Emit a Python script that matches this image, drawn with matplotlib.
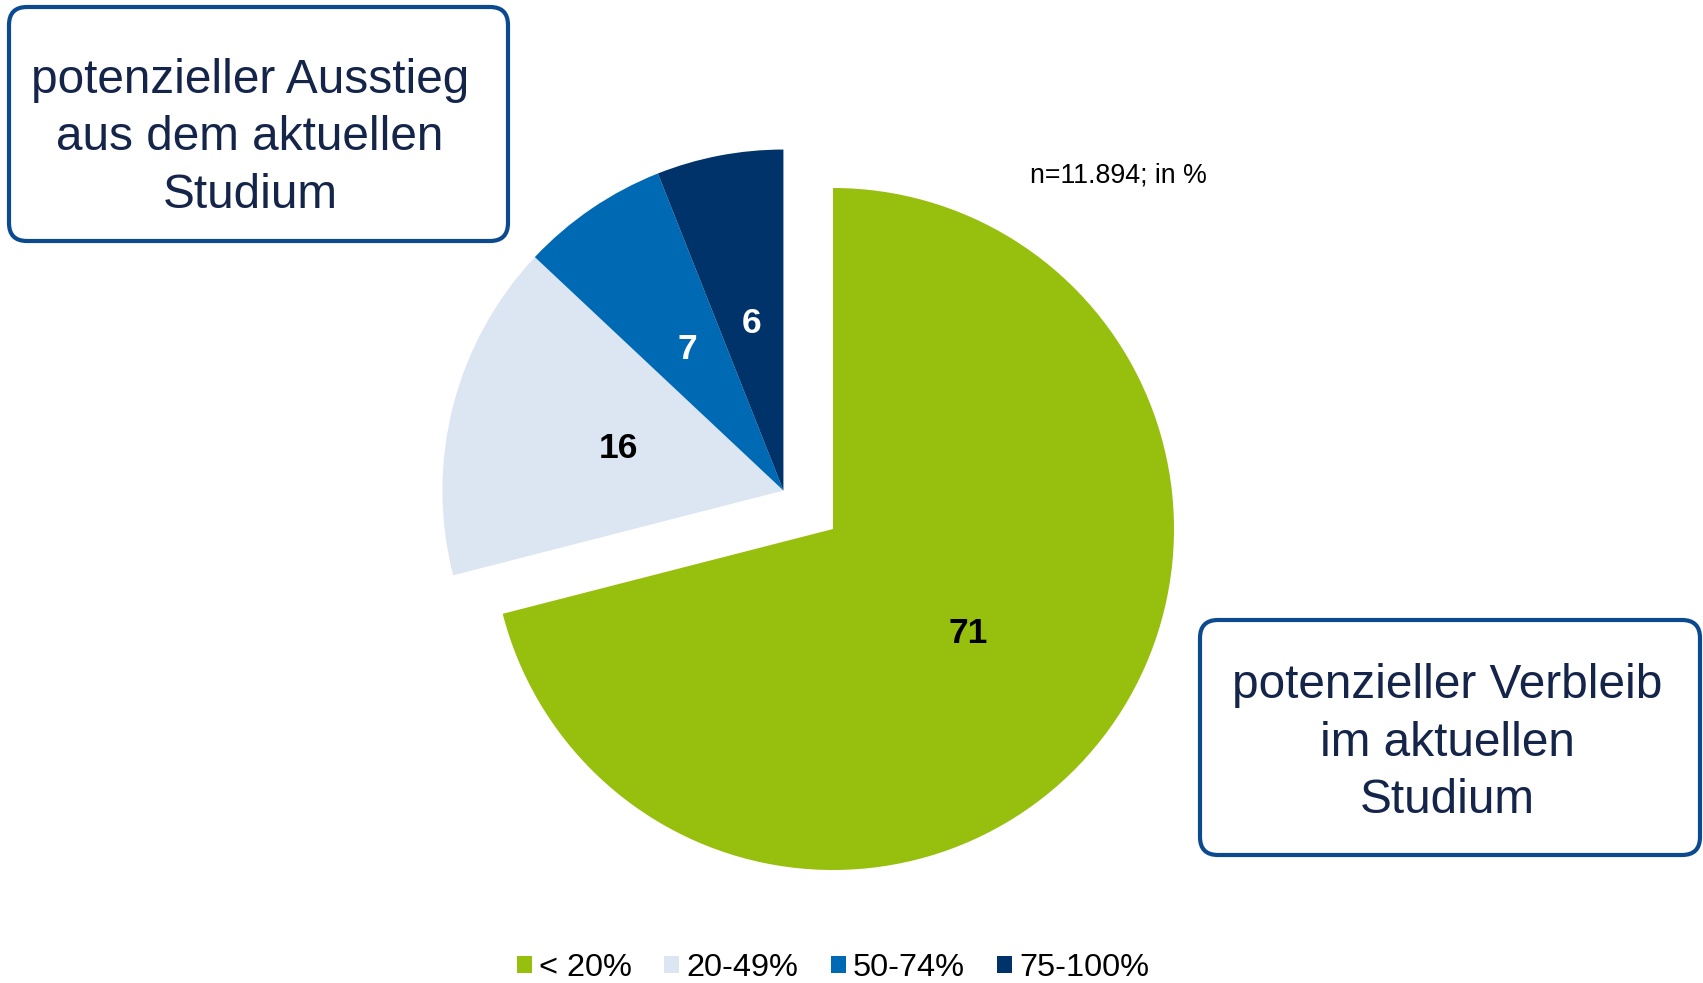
import numpy as np
import matplotlib
matplotlib.use("Agg")
import matplotlib.pyplot as plt
from matplotlib.patches import FancyBboxPatch, Patch

plt.rcParams['font.family'] = ['Liberation Sans', 'DejaVu Sans']

# ---- data ----
categories = ["< 20%", "20-49%", "50-74%", "75-100%"]
values = [71, 16, 7, 6]
colors = ["#97BF0D", "#DCE6F2", "#0069B4", "#00336A"]
label_colors = ["black", "black", "white", "white"]
note = "n=11.894; in %"
box_left = "potenzieller Ausstieg\naus dem aktuellen\nStudium"
box_right = "potenzieller Verbleib\nim aktuellen\nStudium"

W, H = 1703, 983
fig = plt.figure(figsize=(W / 100, H / 100), dpi=100)
ax = fig.add_axes([0, 0, 1, 1])
ax.set_xlim(0, W)
ax.set_ylim(0, H)
ax.set_aspect('equal')
ax.axis('off')

center = (833, H - 529)
radius = 341
explode_frac = 0.184

def draw_pie(c, visible_idx):
    wedges, texts, autotexts = ax.pie(
        values, colors=colors, startangle=90, counterclock=False,
        radius=radius, center=c, autopct=lambda p: f"{p:.0f}",
        pctdistance=0.5, frame=True,
        textprops=dict(fontsize=25.5, fontweight='bold'),
        wedgeprops=dict(linewidth=0))
    for i, (w, t) in enumerate(zip(wedges, autotexts)):
        t.set_color(label_colors[i])
        if i not in visible_idx:
            w.set_visible(False)
            t.set_visible(False)
    return wedges

w_main = draw_pie(center, [0])

# group of remaining slices exploded together along their common mid-angle
total = sum(values)
start_frac = values[0] / total
mid = np.deg2rad(90 - 360 * (start_frac + 1) / 2)
off = explode_frac * radius
gcenter = (center[0] + off * np.cos(mid), center[1] + off * np.sin(mid))
w_group = draw_pie(gcenter, [1, 2, 3])

ax.set_xlim(0, W)
ax.set_ylim(0, H)
ax.axis('off')

# text boxes
box_color = "#0B4A8F"
text_color = "#15254A"
def add_box(x0, y0_img, x1, y1_img, txt, tx, ty_img):
    b = FancyBboxPatch((x0, H - y1_img), x1 - x0, y1_img - y0_img,
                       boxstyle="round,pad=0,rounding_size=18",
                       fc="white", ec=box_color, lw=3.0, zorder=5)
    ax.add_patch(b)
    ax.text(tx, H - ty_img, txt, ha='center', va='center', fontsize=34.4,
            color=text_color, linespacing=1.36, zorder=6)

add_box(9, 7, 508, 241, box_left, 250, 138)
add_box(1200, 620, 1700, 855, box_right, 1447, 743)

ax.text(1118, H - 175, note, ha='center', va='center', fontsize=19.3, color='black')

handles = [Patch(facecolor=c, edgecolor='none') for c in colors]
leg = ax.legend(handles, categories, loc='center', bbox_to_anchor=(833 / W, 15 / H),
                ncol=4, frameon=False, fontsize=23.4, handlelength=0.46,
                handleheight=0.46, handletextpad=0.22, columnspacing=1.0,
                borderaxespad=0, borderpad=0)

fig.savefig("out.png", dpi=100)
